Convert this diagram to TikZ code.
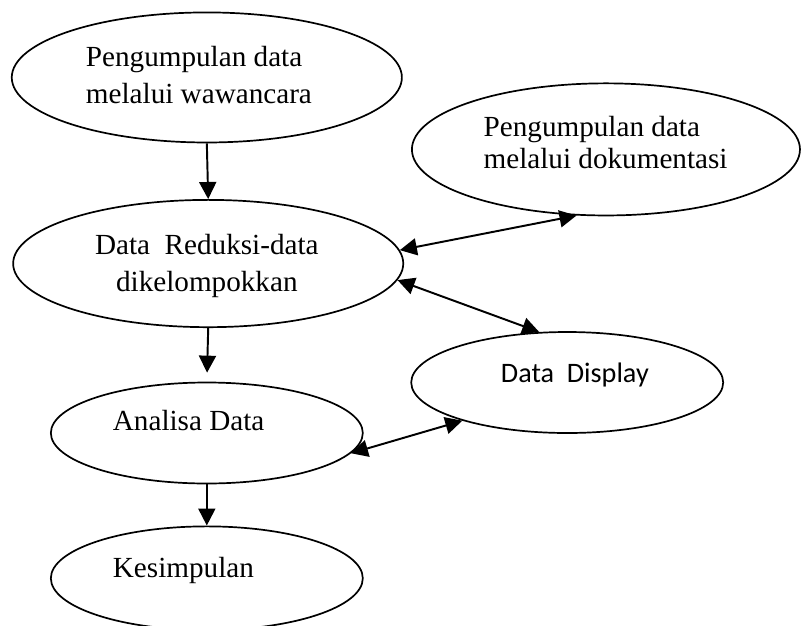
\documentclass[tikz,border=0pt]{standalone}
\usepackage{fontspec}
\setmainfont{Liberation Serif}
\newfontfamily\calibri{Carlito}
\usetikzlibrary{arrows.meta, shapes.geometric}

\begin{document}
\begin{tikzpicture}[line width=0.7pt]
    \tikzstyle{blob}=[ellipse, draw=black, inner sep=0pt]
    \tikzstyle{big blob}=[blob, minimum width=5.64cm, minimum height=1.88cm]
    \tikzstyle{small blob}=[blob, minimum width=4.51cm, minimum height=1.46cm]
    \tikzstyle{txt}=[inner sep=0pt, font=\fontsize{12}{15.2}\selectfont]
    \tikzstyle{flow}=[-{Triangle[length=7pt,width=7pt]}, line width=0.8pt]
    \tikzstyle{both}=[{Triangle[length=7pt,width=7pt]}-{Triangle[length=7pt,width=7pt]}, line width=0.8pt]

    \useasboundingbox (0,0) rectangle (11.58,9.04);

    % left column
    \node[big blob] (wawancara) at (2.99,7.92) {};
    \node[big blob, minimum height=1.84cm] (reduksi) at (3.01,5.23) {};
    \node[small blob] (analisa) at (2.99,2.78) {};
    \node[small blob, minimum height=1.50cm] (kesimpulan) at (2.99,0.68) {};

    % right column
    \node[big blob, minimum width=5.61cm, minimum height=1.91cm] (dokumentasi) at (8.76,6.88) {};
    \node[small blob] (display) at (8.20,3.51) {};

    % texts
    \node[txt, align=left, anchor=west] (wawancara-txt) at ([shift={(-1.76,0.04)}]wawancara.center) {Pengumpulan data\\melalui wawancara};
    \node[txt, align=left, anchor=west, font=\fontsize{12}{12.8}\selectfont] (dokumentasi-txt) at ([shift={(-1.78,0.10)}]dokumentasi.center) {Pengumpulan data\\melalui dokumentasi};
    \node[txt, align=center] (reduksi-txt) at ([shift={(-0.02,-0.03)}]reduksi.center) {Data\ \ Reduksi-data\\dikelompokkan};
    \node[txt, anchor=base west, font=\calibri\fontsize{11.6}{14}\selectfont] (display-txt) at ([shift={(-0.97,0)}]display.center) {Data\ \ Display};
    \node[txt, anchor=base west] (analisa-txt) at ([shift={(-1.37,0.04)}]analisa.center) {Analisa Data};
    \node[txt, anchor=base west] (kesimpulan-txt) at ([shift={(-1.37,0.01)}]kesimpulan.center) {Kesimpulan};

    % connectors
    \path[flow] (wawancara.south) edge (reduksi.north);
    \path[flow, shorten >=3.7pt] (reduksi.south) edge (analisa.north);
    \path[flow] (analisa.south) edge (kesimpulan.north);
    \path[both] (reduksi.4) edge (dokumentasi.246);
    \path[both] (reduksi.-5) edge (display.119);
    \path[both] (analisa.-8) edge (display.200);
\end{tikzpicture}
\end{document}
